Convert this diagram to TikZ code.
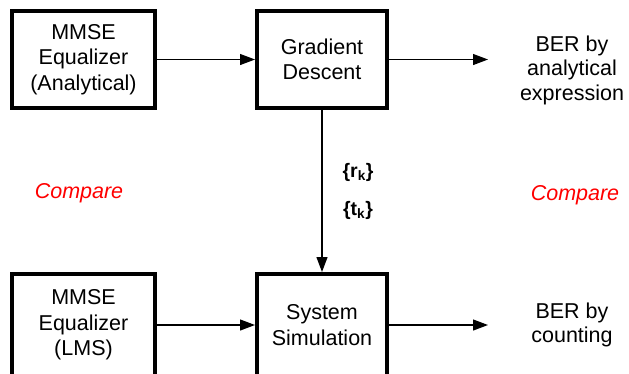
\documentclass[tikz,border=0pt]{standalone}
\usepackage{fontspec}
\setmainfont{Liberation Sans}
\usetikzlibrary{arrows.meta}
\begin{document}
\begin{tikzpicture}[x=1pt,y=-1pt,
  blk/.style={draw,line width=4pt,align=center,inner sep=0pt,font=\fontsize{21.5}{25.5}\selectfont},
  txt/.style={align=center,inner sep=0pt,font=\fontsize{21.5}{24.5}\selectfont},
  cmp/.style={inner sep=0pt,text=red,font=\fontsize{21.5}{24}\selectfont\itshape},
  lbl/.style={inner sep=0pt,font=\fontsize{19.5}{22}\selectfont\bfseries},
  arr/.style={line width=1.2pt,-{Triangle[length=15pt,width=11pt]}}]
\clip (0,0) rectangle (629,373);
\node[blk,minimum width=143pt,minimum height=97pt] (mmse1) at (83.5,59.5) {MMSE\\Equalizer\\(Analytical)};
\node[blk,minimum width=130pt,minimum height=97pt] (grad) at (322,59.5) {Gradient\\Descent};
\node[txt] (ber1) at (572,70) {BER by\\analytical\\expression};
\node[blk,minimum width=143pt,minimum height=102pt] (mmse2) at (83.5,325) {MMSE\\Equalizer\\(LMS)};
\node[blk,minimum width=130pt,minimum height=102pt] (sys) at (322,325) {System\\Simulation};
\node[txt] (ber2) at (572,325) {BER by\\counting};
\node[cmp] (c1) at (79,193) {Compare};
\node[cmp] (c2) at (575,195) {Compare};
\node[lbl] (rk) at (358,172) {\{r\textsubscript{k}\}};
\node[lbl] (tk) at (358,210) {\{t\textsubscript{k}\}};
\coordinate (e1) at (488,59.5);
\coordinate (e2) at (488,325);
\draw[arr] (mmse1.east) -- (grad.west);
\draw[arr] (grad.east) -- (e1);
\draw[arr] (grad.south) -- (sys.north);
\draw[arr] (mmse2.east) -- (sys.west);
\draw[arr] (sys.east) -- (e2);
\end{tikzpicture}
\end{document}
